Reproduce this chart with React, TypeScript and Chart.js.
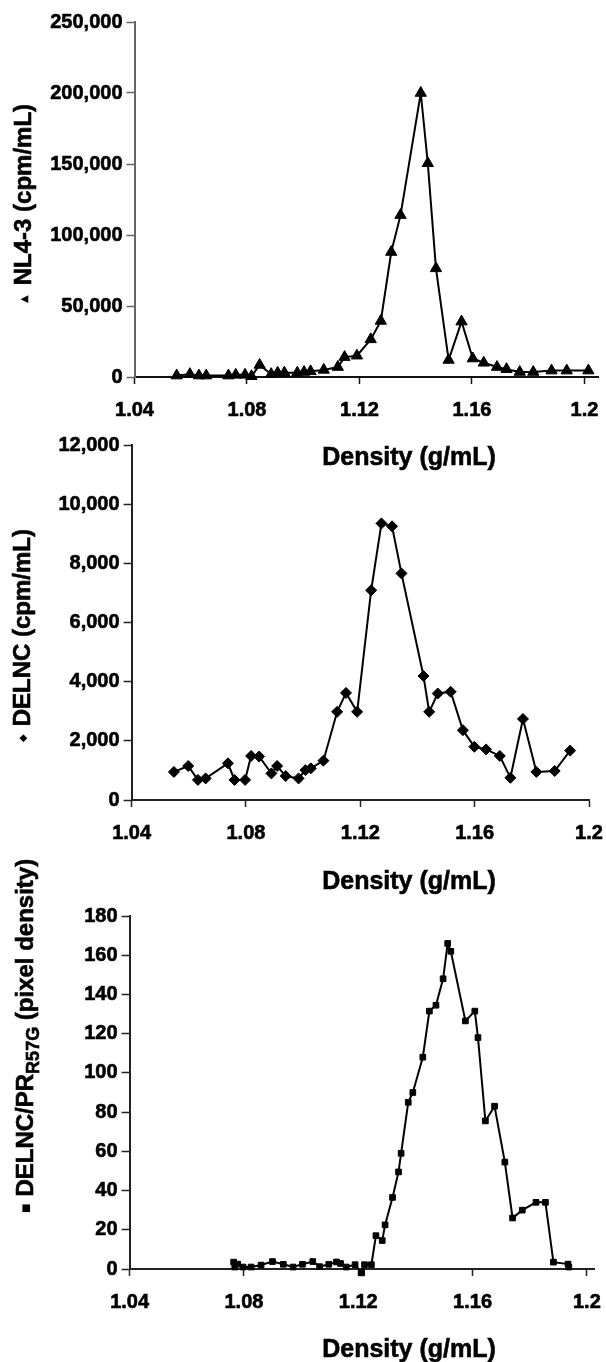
import React, { useEffect, useRef } from "react";
import { Chart, registerables } from "chart.js";

Chart.register(...registerables);

const FONT = '"Liberation Sans", Arial, Helvetica, sans-serif';

// Shared x axis
const densityTicks = [1.04, 1.08, 1.12, 1.16, 1.2];
const xTitleText = "Density (g/mL)";

// Panel 1: NL4-3 (cpm/mL)
const nl43Density = [
  1.055, 1.0597, 1.0629, 1.0655, 1.0734, 1.076, 1.0793, 1.0816, 1.0845, 1.0886,
  1.0909, 1.0933, 1.0979, 1.1003, 1.1026, 1.1073, 1.1123, 1.1147, 1.1191, 1.124,
  1.1276, 1.1313, 1.1346, 1.1418, 1.1443, 1.1472, 1.1517, 1.1563, 1.1603, 1.1642,
  1.1689, 1.1723, 1.177, 1.1818, 1.1883, 1.1937, 1.2014,
];
const nl43Cpm = [
  1000, 2000, 1000, 1000, 1000, 1500, 1500, 500, 8500, 2000,
  3000, 3000, 3000, 3500, 4000, 5000, 7000, 14000, 15000, 26500,
  39500, 88000, 114000, 200000, 150500, 76500, 12000, 39000, 13000, 10000,
  7000, 5500, 3500, 3500, 4500, 4500, 4500,
];
const nl43Ticks = [0, 50000, 100000, 150000, 200000, 250000];

// Panel 2: DELNC (cpm/mL)
const delncDensity = [
  1.0548, 1.0598, 1.0632, 1.0659, 1.0737, 1.076, 1.0797, 1.0818, 1.0846, 1.0889,
  1.0909, 1.0939, 1.0984, 1.1008, 1.1027, 1.1071, 1.1119, 1.115, 1.1189, 1.1238,
  1.1274, 1.1311, 1.1344, 1.1421, 1.1441, 1.1471, 1.1516, 1.1559, 1.1599, 1.164,
  1.1688, 1.1725, 1.1769, 1.1816, 1.188, 1.1934,
];
const delncCpm = [
  950, 1150, 680, 730, 1240, 680, 680, 1490, 1470, 900,
  1150, 810, 730, 1010, 1070, 1330, 2980, 3620, 2980, 7090,
  9350, 9250, 7660, 4190, 2980, 3600, 3660, 2360, 1800, 1710,
  1490, 750, 2740, 950, 980, 1670,
];
const delncTicks = [0, 2000, 4000, 6000, 8000, 10000, 12000];

// Panel 3: DELNC/PR R57G (pixel density)
const prDensity = [
  1.0764, 1.0768, 1.0778, 1.0797, 1.0825, 1.086, 1.09, 1.0938, 1.0972, 1.1005,
  1.1041, 1.1065, 1.1097, 1.1124, 1.1138, 1.1158, 1.1189, 1.1212, 1.1222, 1.1246,
  1.1262, 1.1284, 1.1294, 1.132, 1.1341, 1.135, 1.1375, 1.1391, 1.1426, 1.1449,
  1.1472, 1.1497, 1.1513, 1.1524, 1.1575, 1.1608, 1.1619, 1.1645, 1.1677, 1.1713,
  1.174, 1.1774, 1.1822, 1.1855, 1.1883, 1.1934, 1.1937,
];
const prPixel = [
  3.5, 1, 2.5, 1, 1, 2, 3.8, 2.4, 1, 2.4,
  3.8, 1.2, 2.4, 3.6, 2.8, 1, 2.2, -2, 2.2, 2.2,
  17, 14.5, 22.5, 36.5, 49.5, 59, 85, 90, 108, 131.5,
  134.5, 148, 166, 162, 126.5, 131.5, 118, 75.5, 83, 54.5,
  26, 30, 34, 34, 3.5, 2.5, 1,
];
const prTicks = [0, 20, 40, 60, 80, 100, 120, 140, 160, 180];

type Run = { text: string; size: number; dy?: number; gap?: number; family?: string };

type Panel = {
  xs: number[];
  ys: number[];
  yTicks: number[];
  left: number;
  right: number;
  top: number;
  bottom: number;
  xMax: number;
  pointStyle: "triangle" | "rectRot" | "rect";
  pointRadius: number;
  yAxisColor: string;
  xAxisColor: string;
  titleRuns: Run[];
  titleX: number;
  titleStartY: number;
  xTitleY: number;
};

const W = 606;
const H = 1362;
const MARK_FONT = '"DejaVu Sans", sans-serif';

const panels: Panel[] = [
  {
    xs: nl43Density,
    ys: nl43Cpm,
    yTicks: nl43Ticks,
    left: 134.5,
    right: 606,
    top: 22,
    bottom: 377,
    xMax: 1.205,
    pointStyle: "triangle",
    pointRadius: 6.5,
    yAxisColor: "#666",
    xAxisColor: "#111",
    titleRuns: [
      { text: "\u25B2", size: 10, family: MARK_FONT, gap: 10 },
      { text: "NL4-3 (cpm/mL)", size: 24 },
    ],
    titleX: 24,
    titleStartY: 303,
    xTitleY: 458,
  },
  {
    xs: delncDensity,
    ys: delncCpm,
    yTicks: delncTicks,
    left: 131.6,
    right: 589,
    top: 445,
    bottom: 800,
    xMax: 1.2,
    pointStyle: "rectRot",
    pointRadius: 5.5,
    yAxisColor: "#222",
    xAxisColor: "#222",
    titleRuns: [
      { text: "\u25C6", size: 10, family: MARK_FONT, gap: 8 },
      { text: "DELNC (cpm/mL)", size: 24 },
    ],
    titleX: 23,
    titleStartY: 742,
    xTitleY: 882,
  },
  {
    xs: prDensity,
    ys: prPixel,
    yTicks: prTicks,
    left: 129.6,
    right: 594,
    top: 916,
    bottom: 1269,
    xMax: 1.2025,
    pointStyle: "rect",
    pointRadius: 4,
    yAxisColor: "#222",
    xAxisColor: "#222",
    titleRuns: [
      { text: "\u25A0", size: 10, family: MARK_FONT, gap: 7 },
      { text: "DELNC/PR", size: 24 },
      { text: "R57G", size: 18, dy: 8 },
      { text: " (pixel density)", size: 24 },
    ],
    titleX: 26,
    titleStartY: 1213,
    xTitleY: 1350,
  },
];

function makeChart(canvas: HTMLCanvasElement, p: Panel) {
  const yW = 100;
  const xH = 60;
  const titlePlugin = {
    id: "panelTitles",
    afterDraw(chart: Chart) {
      const ctx = chart.ctx;
      ctx.save();
      ctx.fillStyle = "#000";
      ctx.strokeStyle = "#000";
      ctx.lineWidth = 0.6;
      // x title
      ctx.font = `bold 25px ${FONT}`;
      ctx.textAlign = "center";
      ctx.textBaseline = "middle";
      ctx.fillText(xTitleText, 409, p.xTitleY);
      ctx.strokeText(xTitleText, 409, p.xTitleY);
      // y title (rotated)
      ctx.translate(p.titleX, p.titleStartY);
      ctx.rotate(-Math.PI / 2);
      ctx.textAlign = "left";
      let x = 0;
      for (const r of p.titleRuns) {
        ctx.font = `bold ${r.size}px ${r.family || FONT}`;
        ctx.fillText(r.text, x, r.dy || 0);
        if (!r.family) ctx.strokeText(r.text, x, r.dy || 0);
        x += ctx.measureText(r.text).width + (r.gap || 0);
      }
      ctx.restore();
    },
  };

  const tickFont = { family: FONT, size: 20, weight: "bold" as const };

  return new Chart(canvas, {
    type: "line",
    data: {
      datasets: [
        {
          data: p.xs.map((x, i) => ({ x, y: p.ys[i] })),
          borderColor: "#000",
          borderWidth: 2,
          backgroundColor: "#000",
          pointBackgroundColor: "#000",
          pointBorderColor: "#000",
          pointBorderWidth: 1,
          pointStyle: p.pointStyle,
          pointRadius: p.pointRadius,
          tension: 0,
          fill: false,
          clip: false as any,
        },
      ],
    },
    options: {
      responsive: false,
      animation: false,
      events: [],
      layout: {
        padding: {
          left: p.left - yW,
          right: W - p.right,
          top: p.top,
          bottom: H - p.bottom - xH,
        },
      },
      plugins: {
        legend: { display: false },
        tooltip: { enabled: false },
        title: { display: false },
      },
      scales: {
        x: {
          type: "linear",
          min: 1.04,
          max: p.xMax,
          afterBuildTicks: (s: any) => {
            s.ticks = densityTicks.map((v) => ({ value: v }));
          },
          afterFit: (s: any) => {
            s.height = xH;
            s.paddingLeft = 0;
            s.paddingRight = 0;
          },
          grid: {
            drawOnChartArea: false,
            drawTicks: true,
            tickLength: 7,
            tickColor: p.xAxisColor,
            tickWidth: 1.5,
          },
          border: { display: true, color: p.xAxisColor, width: 2 },
          ticks: {
            font: tickFont,
            color: "#000",
            textStrokeColor: "#000",
            textStrokeWidth: 0.6,
            padding: 14,
            maxRotation: 0,
            autoSkip: false,
            callback: (v: any) => String(Number(v)),
          },
        },
        y: {
          type: "linear",
          min: p.yTicks[0],
          max: p.yTicks[p.yTicks.length - 1],
          afterBuildTicks: (s: any) => {
            s.ticks = p.yTicks.map((v) => ({ value: v }));
          },
          afterFit: (s: any) => {
            s.width = yW;
            s.paddingTop = 0;
            s.paddingBottom = 0;
          },
          grid: {
            drawOnChartArea: false,
            drawTicks: true,
            tickLength: 8,
            tickColor: p.yAxisColor,
            tickWidth: 1.5,
          },
          border: { display: true, color: p.yAxisColor, width: 2 },
          ticks: {
            font: tickFont,
            color: "#000",
            textStrokeColor: "#000",
            textStrokeWidth: 0.6,
            padding: 4,
            autoSkip: false,
            callback: (v: any) => Number(v).toLocaleString("en-US"),
          },
        },
      },
    },
    plugins: [titlePlugin],
  });
}

function PanelCanvas({ p }: { p: Panel }) {
  const ref = useRef<HTMLCanvasElement | null>(null);
  useEffect(() => {
    if (!ref.current) return;
    const chart = makeChart(ref.current, p);
    return () => chart.destroy();
  }, [p]);
  return (
    <canvas
      ref={ref}
      width={W}
      height={H}
      style={{ position: "absolute", left: 0, top: 0, width: W, height: H }}
    />
  );
}

export default function App() {
  return (
    <div
      style={{
        position: "absolute",
        left: 0,
        top: 0,
        width: W,
        height: H,
        background: "#fff",
        overflow: "hidden",
      }}
    >
      {panels.map((p, i) => (
        <PanelCanvas key={i} p={p} />
      ))}
    </div>
  );
}
